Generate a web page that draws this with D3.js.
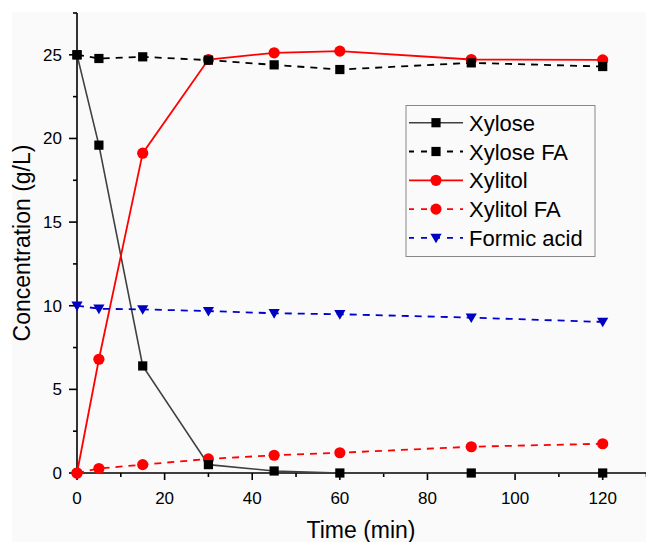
<!DOCTYPE html>
<html><head><meta charset="utf-8">
<script src="https://cdn.jsdelivr.net/npm/d3@7/dist/d3.min.js"></script>
<style>body{margin:0;background:#fff}svg{display:block}</style>
</head><body>
<script>
const times = [0, 5, 15, 30, 45, 60, 90, 120];
const xylose = [25, 19.6, 6.4, 0.5, 0.12, 0.0, 0.0, 0.0];
const xyloseFA = [25, 24.78, 24.88, 24.68, 24.4, 24.12, 24.52, 24.3];
const xylitol = [0, 6.8, 19.12, 24.72, 25.12, 25.22, 24.72, 24.7];
const xylitolFA = [0, 0.27, 0.5, 0.84, 1.06, 1.21, 1.57, 1.75];
const formic = [10.0, 9.82, 9.78, 9.68, 9.55, 9.49, 9.29, 9.03];
const xTicks = [0, 20, 40, 60, 80, 100, 120];
const yTicks = [0, 5, 10, 15, 20, 25];
const seriesNames = ["Xylose", "Xylose FA", "Xylitol", "Xylitol FA", "Formic acid"];

const W = 646, H = 542;
const svg = d3.select("body").append("svg").attr("width", W).attr("height", H);
svg.append("rect").attr("x", 12).attr("y", 12).attr("width", W - 12).attr("height", H - 12).attr("fill", "#fafafa");

const x = d3.scaleLinear().domain([0, 130]).range([77, 646.5]);
const y = d3.scaleLinear().domain([0, 27.5]).range([473, 13]);
const font = "Arial, 'Liberation Sans', sans-serif";

const series = [
  {name: seriesNames[0], vals: xylose, color: "#404040", mcolor: "#000", dash: null, sym: "square", w: 1.6},
  {name: seriesNames[1], vals: xyloseFA, color: "#000", mcolor: "#000", dash: "7,6", sym: "square", w: 1.8},
  {name: seriesNames[2], vals: xylitol, color: "#ff0000", mcolor: "#ff0000", dash: null, sym: "circle", w: 1.8},
  {name: seriesNames[3], vals: xylitolFA, color: "#ff0000", mcolor: "#ff0000", dash: "7,6", sym: "circle", w: 1.8},
  {name: seriesNames[4], vals: formic, color: "#0000d0", mcolor: "#0000c0", dash: "7,6", sym: "tri", w: 1.8}
];

function drawMarker(g, sym, cx, cy, color) {
  if (sym === "square") {
    g.append("rect").attr("x", cx - 4.6).attr("y", cy - 4.6).attr("width", 9.2).attr("height", 9.2).attr("fill", color);
  } else if (sym === "circle") {
    g.append("circle").attr("cx", cx).attr("cy", cy).attr("r", 5.6).attr("fill", color);
  } else {
    g.append("path").attr("d", `M${cx - 5.6},${cy - 4.2}L${cx + 5.6},${cy - 4.2}L${cx},${cy + 5.4}Z`).attr("fill", color);
  }
}

// axes
const xAxis = svg.append("g").attr("transform", "translate(0,473)");
xAxis.append("line").attr("x1", x(0)).attr("x2", x(130)).attr("y1", 0).attr("y2", 0).attr("stroke", "#000").attr("stroke-width", 1.6);
d3.range(0, 131, 10).forEach(v => {
  const major = v % 20 === 0;
  xAxis.append("line").attr("x1", x(v)).attr("x2", x(v)).attr("y1", 0).attr("y2", major ? 7 : 4).attr("stroke", "#000").attr("stroke-width", 1.6);
});
xTicks.forEach(v => {
  xAxis.append("text").attr("x", x(v)).attr("y", 31).attr("text-anchor", "middle").attr("font-family", font).attr("font-size", 17).text(v);
});
const yAxis = svg.append("g").attr("transform", "translate(77,0)");
yAxis.append("line").attr("x1", 0).attr("x2", 0).attr("y1", y(0)).attr("y2", y(27.5)).attr("stroke", "#000").attr("stroke-width", 1.6);
d3.range(0, 27.6, 2.5).forEach(v => {
  const major = Math.abs(v % 5) < 1e-9;
  yAxis.append("line").attr("x1", 0).attr("x2", major ? -8 : -4).attr("y1", y(v)).attr("y2", y(v)).attr("stroke", "#000").attr("stroke-width", 1.6);
});
yTicks.forEach(v => {
  yAxis.append("text").attr("x", -15).attr("y", y(v) + 6).attr("text-anchor", "end").attr("font-family", font).attr("font-size", 17).text(v);
});
svg.append("text").attr("x", 361).attr("y", 538).attr("text-anchor", "middle").attr("font-family", font).attr("font-size", 23).text("Time (min)");
svg.append("text").attr("transform", "translate(30,243) rotate(-90)").attr("text-anchor", "middle").attr("font-family", font).attr("font-size", 23).text("Concentration (g/L)");

// lines
const line = d3.line().x(d => x(d[0])).y(d => y(d[1]));
series.forEach(s => {
  svg.append("path").datum(times.map((t, i) => [t, s.vals[i]])).attr("d", line)
    .attr("fill", "none").attr("stroke", s.color).attr("stroke-width", s.w)
    .attr("stroke-dasharray", s.dash);
});
// markers
[3, 2, 4, 0, 1].forEach(k => {
  const s = series[k];
  const g = svg.append("g");
  times.forEach((t, i) => drawMarker(g, s.sym, x(t), y(s.vals[i]), s.mcolor));
});

// legend
const lg = svg.append("g");
lg.append("rect").attr("x", 406).attr("y", 105.5).attr("width", 189).attr("height", 151).attr("fill", "#fafafa").attr("stroke", "#888").attr("stroke-width", 1);
series.forEach((s, i) => {
  const cy = 122.7 + i * 28.8;
  lg.append("line").attr("x1", 409).attr("x2", 463).attr("y1", cy).attr("y2", cy)
    .attr("stroke", s.color).attr("stroke-width", s.w).attr("stroke-dasharray", s.dash ? "6,7" : null)
    .attr("stroke-dashoffset", s.dash ? 1 : null);
  drawMarker(lg, s.sym, 436, cy, s.mcolor);
  lg.append("text").attr("x", 469).attr("y", cy + 8).attr("font-family", font).attr("font-size", 22).text(s.name);
});
</script>
</body></html>
